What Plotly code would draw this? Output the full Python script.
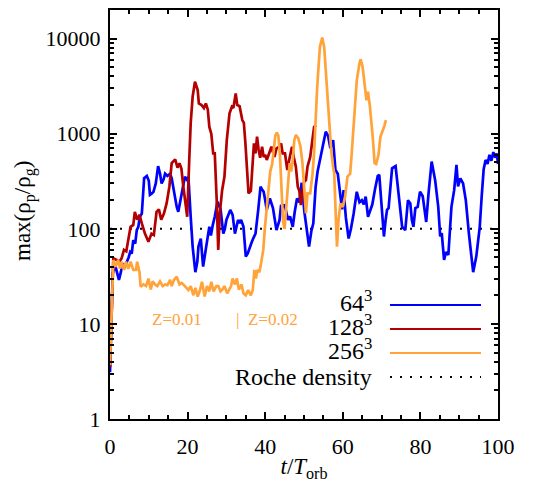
import numpy as np
import plotly.graph_objects as go

# max particle-to-gas density ratio versus time, three grid resolutions
t_64 = [0, 0.4, 0.7, 1.3, 1.8, 2.3, 2.8, 3.2, 3.8, 4.3, 4.8, 5.2, 5.6, 6.0, 6.5, 6.9, 7.3, 7.7,
        8.2, 8.8, 9.5, 10.0, 10.3, 10.8, 11.2, 11.8, 12.4, 12.9, 13.3, 13.8, 14.2, 14.8, 15.5,
        15.9, 16.4, 16.8, 17.2, 17.6, 18.1, 18.5, 19.0, 19.3, 19.8, 20.2, 20.8, 21.3, 22.0,
        22.5, 22.8, 23.4, 24.0, 24.5, 24.8, 25.6, 26.0, 26.5, 27.0, 27.7, 28.1, 28.5, 29.2,
        29.6, 30.0, 30.5, 31.0, 31.6, 32.2, 32.6, 33.0, 33.4, 33.8, 34.4, 35.0, 35.5, 35.9,
        36.4, 36.9, 37.5, 38.2, 38.8, 39.2, 39.6, 40.0, 40.4, 41.2, 41.6, 42.0, 42.9, 43.3,
        43.7, 44.1, 44.5, 45.0, 45.4, 45.9, 46.4, 47.1, 47.6, 48.2, 48.8, 49.4, 50.1, 50.6,
        51.3, 51.9, 52.4, 53.0, 53.5, 54.1, 54.8, 55.6, 56.2, 56.8, 57.5, 58.1, 58.7, 59.4,
        59.8, 60.2, 60.8, 61.5, 62.1, 62.8, 63.6, 64.3, 64.9, 65.4, 65.9, 66.5, 67.1, 67.6,
        68.3, 69.0, 69.4, 69.9, 70.6, 71.0, 71.4, 71.8, 72.7, 73.6, 74.4, 75.3, 76.1, 76.8,
        77.4, 77.8, 78.2, 78.7, 79.3, 79.9, 80.6, 81.5, 82.1, 82.9, 83.8, 84.6, 85.1, 85.5,
        86.1, 86.6, 87.2, 88.0, 88.7, 89.3, 89.7, 90.3, 91.0, 91.7, 92.5, 93.6, 94.4, 95.3,
        95.8, 96.3, 96.8, 97.3, 97.8, 98.3, 98.8, 99.3, 99.7, 100.0]
rho_64 = [3.1, 9.3, 34, 42, 36, 29, 35, 43, 40, 44, 50, 57, 55, 76, 70, 97, 105, 134,
          145, 340, 360, 320, 228, 235, 245, 300, 457, 380, 300, 330, 380, 360, 380,
          340, 260, 200, 170, 151, 200, 236, 300, 352, 330, 352, 134, 65, 35,
          45, 65, 79, 40, 52, 65, 105, 85, 110, 134, 193, 175, 160, 89,
          100, 124, 140, 158, 140, 89, 105, 124, 115, 124, 105, 51, 55, 60,
          70, 79, 89, 158, 277, 260, 245, 200, 158, 209, 190, 165, 97, 110,
          124, 178, 170, 180, 150, 124, 135, 105, 150, 209, 190, 305, 151, 110,
          65, 95, 114, 277, 400, 527, 700, 1050, 950, 705, 855, 415, 380, 218,
          160, 255, 130, 79, 100, 145, 245, 190, 200, 180, 218, 134, 160, 180,
          260, 360, 370, 200, 83, 120, 158, 165, 433, 457, 236, 105, 97, 200,
          185, 124, 105, 165, 170, 245, 220, 118, 236, 510, 325, 170, 83, 90,
          47, 57, 53, 170, 255, 470, 280, 340, 300, 200, 89, 35, 51, 105,
          220, 420, 530, 480, 600, 520, 640, 560, 620, 480]

t_128 = [0, 0.4, 0.86, 1.7, 2.4, 3.0, 3.6, 4.2, 4.7, 5.3, 6.0, 6.4, 7.0, 7.6, 8.2, 9.0,
         9.9, 10.7, 11.3, 12.0, 12.6, 13.2, 13.9, 14.6, 15.3, 15.9, 16.8, 17.4, 17.9,
         18.4, 18.9, 19.6, 19.9, 20.4, 20.8, 21.3, 21.9, 22.6, 22.9, 23.6, 24.2, 24.7,
         25.2, 25.6, 26.1, 26.6, 27.0, 27.5, 27.9, 28.3, 28.9, 29.5, 30.1, 30.8, 31.4,
         31.8, 32.4, 32.8, 33.4, 34.1, 34.5, 34.9, 35.2, 35.7, 36.3, 36.7, 37.1, 37.5,
         37.9, 38.3, 38.7, 39.2, 39.6, 40.0, 40.4, 41.0, 41.6, 42.0, 42.4, 42.9, 43.7,
         44.1, 44.5, 45.1, 45.7, 46.3, 46.9, 47.4, 47.9, 48.4, 48.8, 49.2, 49.6, 50.0,
         50.5, 50.9, 51.6, 52.1, 52.6, 53.1]
rho_128 = [3.5, 15, 49, 47, 45, 49, 60, 58, 76, 105, 110, 151, 125, 140, 114, 89,
           73, 89, 86, 151, 160, 125, 145, 186, 277, 490, 537, 440, 490,
           430, 277, 158, 134, 500, 1290, 2450, 3530, 2880, 2080, 2000, 1860, 2080,
           1800, 1180, 1000, 620, 620, 200, 60, 145, 255, 355, 855, 1630, 1920,
           1860, 2650, 2000, 1950, 1390, 1300, 790, 450, 236, 250, 450, 790, 620,
           930, 680, 560, 730, 570, 600, 530, 620, 730, 640, 570, 700, 730,
           790, 620, 620, 415, 560, 730, 560, 450, 277, 250, 178, 240, 310,
           325, 450, 570, 800, 1180, 1230]

t_256 = [0, 0.4, 0.86, 1.4, 2.1, 2.6, 3.0, 3.6, 4.1, 4.7, 5.3, 6.0, 6.7, 7.0, 7.6, 7.9,
         8.6, 9.3, 9.9, 10.5, 11.0, 11.6, 12.2, 12.9, 13.6, 14.2, 14.8, 15.5, 15.9, 16.5,
         17.2, 17.9, 18.5, 19.3, 20.2, 20.8, 21.5, 22.0, 22.6, 23.2, 23.7, 24.4, 25.0,
         25.6, 26.1, 26.7, 27.4, 27.9, 28.5, 29.0, 29.5, 30.2, 30.7, 31.2, 31.6, 32.2,
         32.7, 33.2, 33.9, 34.4, 35.0, 35.6, 36.3, 36.8, 37.2, 37.6, 38.0, 38.5, 39.0,
         39.5, 39.9, 40.3, 40.8, 41.3, 41.8, 42.2, 42.6, 43.0, 43.4, 43.8, 44.2, 44.6,
         45.0, 45.4, 45.9, 46.3, 46.7, 47.1, 47.5, 47.9, 48.5, 49.1, 49.6, 50.1, 50.5,
         50.9, 51.6, 52.2, 52.6, 53.0, 53.4, 54.1, 54.7, 55.2, 55.8, 56.4, 57.0, 57.5,
         57.8, 58.1, 58.5, 58.9, 59.4, 60.0, 60.6, 61.2, 61.9, 62.3, 62.9, 63.6, 64.3,
         64.6, 65.1, 65.7, 66.1, 66.5, 67.0, 67.7, 68.2, 68.6, 69.2, 69.7, 70.2, 70.7,
         71.1]
rho_256 = [3.7, 15, 47, 40, 47, 38, 45, 37, 45, 38, 45, 37, 37, 45, 35, 24.6,
           26, 25, 30, 23, 28, 26, 25, 28, 25, 26, 25.6, 29, 25, 29,
           31.4, 26, 27, 25, 22.7, 25, 20, 24, 19.4, 22.7, 27.7, 19.4, 25,
           22, 27.7, 22, 25, 25, 22, 23, 25, 21, 23, 25, 30, 26,
           30, 23, 26, 21, 20, 22.7, 20, 22.7, 37, 30, 37, 35, 45,
           60, 100, 150, 250, 400, 480, 700, 950, 1030, 950, 600, 250, 120,
           100, 155, 300, 490, 400, 530, 855, 970, 900, 730, 490, 255, 145,
           236, 236, 380, 620, 1390, 3100, 8200, 10250, 8200, 3640, 1390, 675, 450,
           380, 170, 65, 124, 185, 170, 218, 355, 380, 620, 1390, 3640, 5500,
           6040, 5060, 3100, 2250, 2770, 1920, 930, 490, 480, 600, 930, 1050, 1200,
           1390]

roche_t = [0, 100]
roche_rho = [100, 100]

x_ticks = [0, 20, 40, 60, 80, 100]
y_ticks = [1, 10, 100, 1000, 10000]
y_tick_text = ["1", "10", "100", "1000", "10000"]
y_minor = [m * 10 ** e for e in range(0, 5) for m in range(2, 10) if m * 10 ** e <= 20000]

series = [
    ("64<sup>3</sup>", t_64, rho_64, "#0000FF"),
    ("128<sup>3</sup>", t_128, rho_128, "#B40000"),
    ("256<sup>3</sup>", t_256, rho_256, "#FFA33A"),
]

SERIF = "Liberation Serif"
ROCHE_DASH = "2px,8px"
ORANGE = "#FFA33A"

fig = go.Figure()
fig.add_trace(go.Scatter(x=roche_t, y=roche_rho, mode="lines",
                         line=dict(color="black", width=2, dash=ROCHE_DASH),
                         hoverinfo="skip"))
for name, t, rho, color in series:
    fig.add_trace(go.Scatter(x=t, y=rho, mode="lines", name=name,
                             line=dict(color=color, width=2.7)))

# pixel -> paper conversion for the hand-placed decorations
plot_l, plot_r, plot_t, plot_b = 110, 498, 10, 419


def px_to_paper(xp, yp):
    return (xp - plot_l) / (plot_r - plot_l), (plot_b - yp) / (plot_b - plot_t)


# hand-built legend: label on the left, line sample on the right
legend_rows = [(s[0], s[3], "solid") for s in series] + [("Roche density", "black", ROCHE_DASH)]
row_y = [305, 329, 353, 377]
for (label, color, dash), yp in zip(legend_rows, row_y):
    is_sup = "<sup>" in label
    xt, yt = px_to_paper(374, yp - (4 if is_sup else 0))
    fig.add_annotation(x=xt, y=yt, xref="paper", yref="paper", text=label,
                       showarrow=False, xanchor="right", yanchor="middle",
                       font=dict(family=SERIF, size=24, color="black"))
    x0, y0 = px_to_paper(390, yp)
    x1, _ = px_to_paper(481, yp)
    fig.add_shape(type="line", xref="paper", yref="paper", x0=x0, x1=x1, y0=y0, y1=y0,
                  line=dict(color=color, width=2, dash=dash))

# metallicity labels for the 256^3 run (log axis: y given as log10)
fig.add_annotation(x=17.3, y=np.log10(11), xref="x", yref="y", text="Z=0.01",
                   showarrow=False, xanchor="center", yanchor="middle",
                   font=dict(family=SERIF, size=17, color=ORANGE))
fig.add_annotation(x=32.0, y=np.log10(11), xref="x", yref="y", text="|  Z=0.02",
                   showarrow=False, xanchor="left", yanchor="middle",
                   font=dict(family=SERIF, size=17, color=ORANGE))

# y-axis title placed directly so it sits where the label column ends
tx, ty = px_to_paper(24, 211)
fig.add_annotation(x=tx, y=ty, xref="paper", yref="paper",
                   text="max(\u03c1<sub>p</sub>/\u03c1<sub>g</sub>)", textangle=-90,
                   showarrow=False, xanchor="center", yanchor="middle",
                   font=dict(family=SERIF, size=23, color="black"))

axis_common = dict(showline=True, linewidth=2, linecolor="black", mirror="allticks",
                   ticks="inside", ticklen=7, tickwidth=1.5, tickcolor="black",
                   showgrid=False, zeroline=False, automargin=False,
                   tickfont=dict(family=SERIF, size=22, color="black"))

fig.update_xaxes(range=[0, 100], tickmode="array", tickvals=x_ticks,
                 ticklabelstandoff=7,
                 minor=dict(ticks="inside", ticklen=4, tickwidth=1.5, dtick=5,
                            tickcolor="black", showgrid=False),
                 title=dict(text="<i>t</i>/<i>T</i><sub>orb</sub>", standoff=2,
                            font=dict(family=SERIF, size=23, color="black")),
                 **axis_common)
fig.update_yaxes(type="log", range=[0, np.log10(20000)], tickmode="array",
                 tickvals=y_ticks, ticktext=y_tick_text, ticklabelstandoff=3,
                 minor=dict(ticks="inside", ticklen=4, tickwidth=1.5, tickmode="array",
                            tickvals=y_minor, tickcolor="black", showgrid=False),
                 **axis_common)

fig.update_layout(width=545, height=482, showlegend=False,
                  margin=dict(l=110, r=47, t=10, b=63, pad=0),
                  plot_bgcolor="white", paper_bgcolor="white",
                  font=dict(family=SERIF, size=22, color="black"))

fig.write_html("out.html", config={"displayModeBar": False})
